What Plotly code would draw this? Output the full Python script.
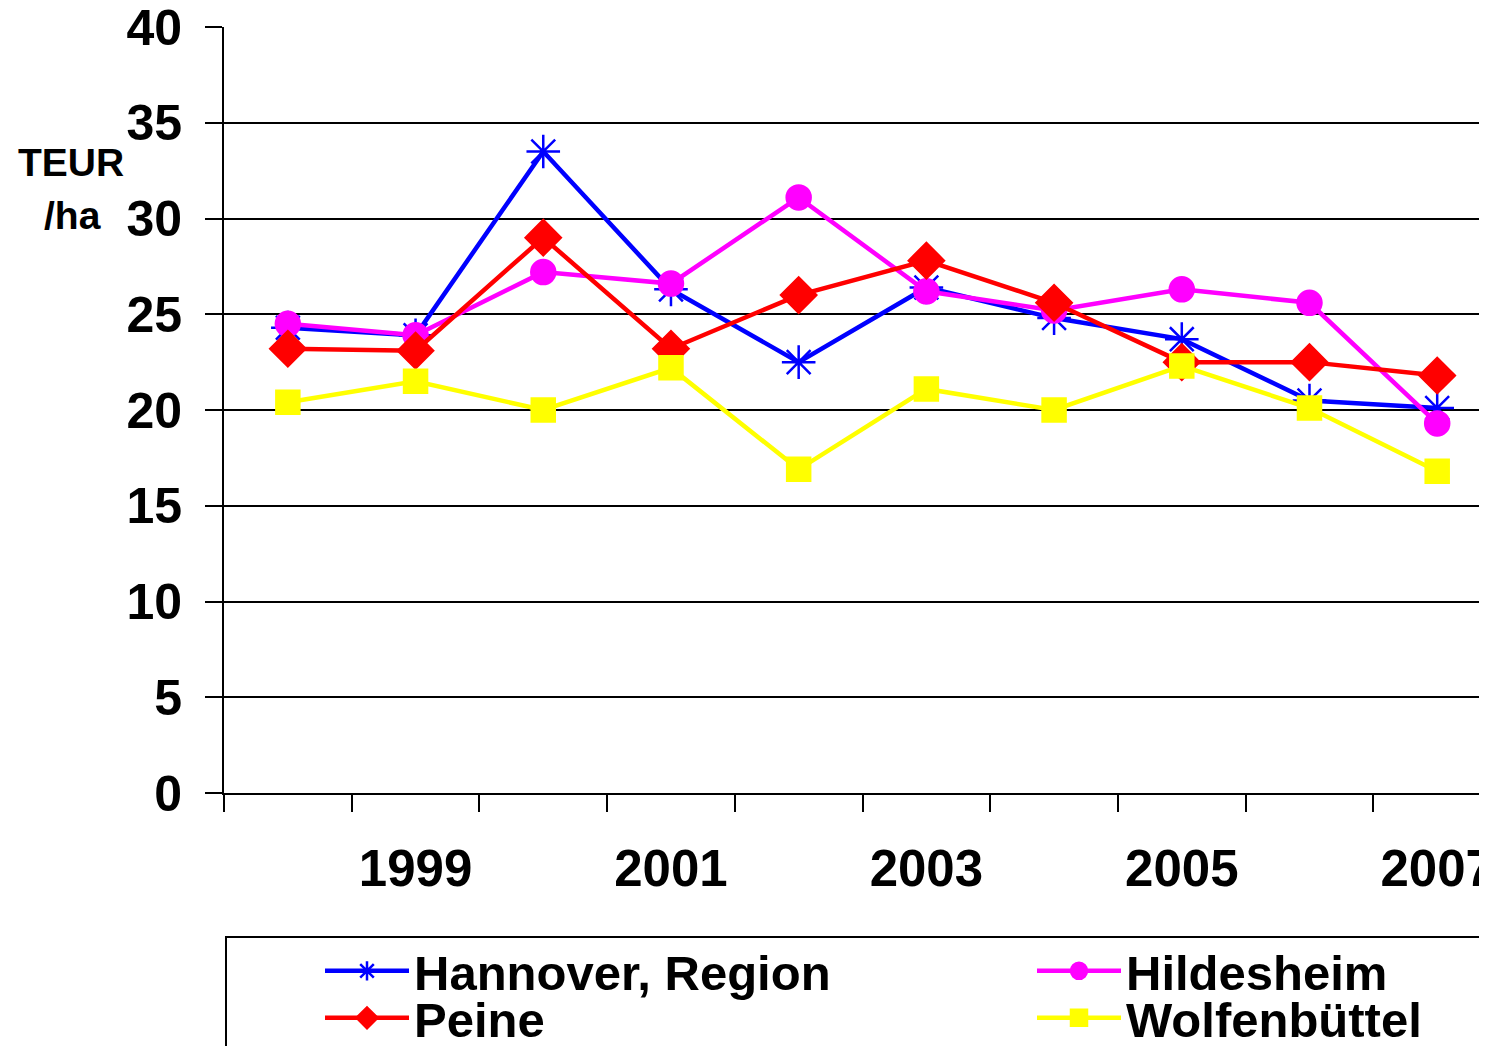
import plotly.graph_objects as go

years = [1998, 1999, 2000, 2001, 2002, 2003, 2004, 2005, 2006, 2007]
label_years = [1999, 2001, 2003, 2005, 2007]

hannover = [24.3, 23.9, 33.5, 26.3, 22.5, 26.4, 24.8, 23.7, 20.5, 20.1]
hildesheim = [24.5, 23.9, 27.2, 26.6, 31.1, 26.2, 25.2, 26.3, 25.6, 19.3]
peine = [23.2, 23.1, 29.0, 23.2, 26.0, 27.8, 25.6, 22.5, 22.5, 21.8]
wolfenbuettel = [20.4, 21.5, 20.0, 22.2, 16.9, 21.1, 20.0, 22.3, 20.1, 16.8]

# the page body adds an 8px offset; compensate so the screenshot lines up
OFF = 8
W, H = 1487 - OFF, 1046 - OFF
ml, mr, mt, mb = 224 - OFF, 0, 27 - OFF, 253
pw = W - ml - mr
ph = H - mt - mb


def px_x(p):
    return (p - OFF - ml) / pw


def px_y(p):
    return (H - mb - (p - OFF)) / ph


FONT = "Liberation Sans, Arial, sans-serif"

# name, values, colour, symbol, size, legend id, legend x(px), legend y(px)
series = [
    ("Hannover, Region", hannover, "#0000FF", "asterisk-open", 28, "legend", 320, 971),
    ("Hildesheim", hildesheim, "#FF00FF", "circle", 24, "legend3", 1032, 971),
    ("Peine", peine, "#FF0000", "diamond", 27, "legend2", 320, 1018),
    ("Wolfenbüttel", wolfenbuettel, "#FFFF00", "square", 23, "legend4", 1032, 1018),
]

fig = go.Figure()
legends = {}
for name, vals, color, sym, size, leg, lx, ly in series:
    fig.add_trace(go.Scatter(
        x=years, y=vals, name=name, mode="lines+markers",
        legend=leg,
        line=dict(color=color, width=4.5),
        marker=dict(symbol=sym, size=size, color=color,
                    line=dict(color=color, width=2.5)),
    ))
    legends[leg] = dict(
        x=px_x(lx), y=px_y(ly), xanchor="left", yanchor="middle",
        font=dict(family=FONT, size=49, color="black", weight="bold"),
        bgcolor="rgba(0,0,0,0)", borderwidth=0,
        itemwidth=84,
    )

fig.update_layout(
    width=W, height=H,
    margin=dict(l=ml, r=mr, t=mt, b=mb, autoexpand=False),
    paper_bgcolor="white", plot_bgcolor="white",
    font=dict(family=FONT, color="black", size=40, weight="bold"),
    showlegend=True,
    xaxis=dict(
        range=[1997.5, 2007.39],
        tickmode="array", tickvals=label_years,
        ticktext=[str(y) for y in label_years],
        ticks="", showgrid=False, zeroline=False,
        showline=True, linecolor="black", linewidth=2,
        tickfont=dict(family=FONT, size=51, weight="bold"),
        ticklabelstandoff=30,
        ticklabeloverflow="allow",
        automargin=False,
        minor=dict(tickmode="array",
                   tickvals=[y - 0.5 for y in years] + [2007.5],
                   ticks="outside", ticklen=17, tickwidth=2,
                   tickcolor="black", showgrid=False),
    ),
    yaxis=dict(
        range=[0, 40], tickmode="linear", tick0=0, dtick=5,
        ticks="outside", ticklen=17, tickwidth=2, tickcolor="black",
        showgrid=True, gridcolor="black", gridwidth=2,
        zeroline=False, showline=True, linecolor="black", linewidth=2,
        tickfont=dict(family=FONT, size=50, weight="bold"),
        ticklabelstandoff=13,
        ticklabeloverflow="allow",
        automargin=False,
    ),
    annotations=[
        dict(text="TEUR", xref="paper", yref="paper",
             x=px_x(71), y=px_y(162), xanchor="center", yanchor="middle",
             showarrow=False,
             font=dict(family=FONT, size=39, weight="bold")),
        dict(text="/ha", xref="paper", yref="paper",
             x=px_x(72), y=px_y(215), xanchor="center", yanchor="middle",
             showarrow=False,
             font=dict(family=FONT, size=39, weight="bold")),
    ],
    shapes=[
        dict(type="rect", xref="paper", yref="paper",
             x0=px_x(226), x1=px_x(1600), y0=px_y(937), y1=px_y(1200),
             line=dict(color="black", width=2), fillcolor="rgba(0,0,0,0)",
             layer="below"),
    ],
)
fig.update_layout(**legends)

fig.write_html("out.html")
